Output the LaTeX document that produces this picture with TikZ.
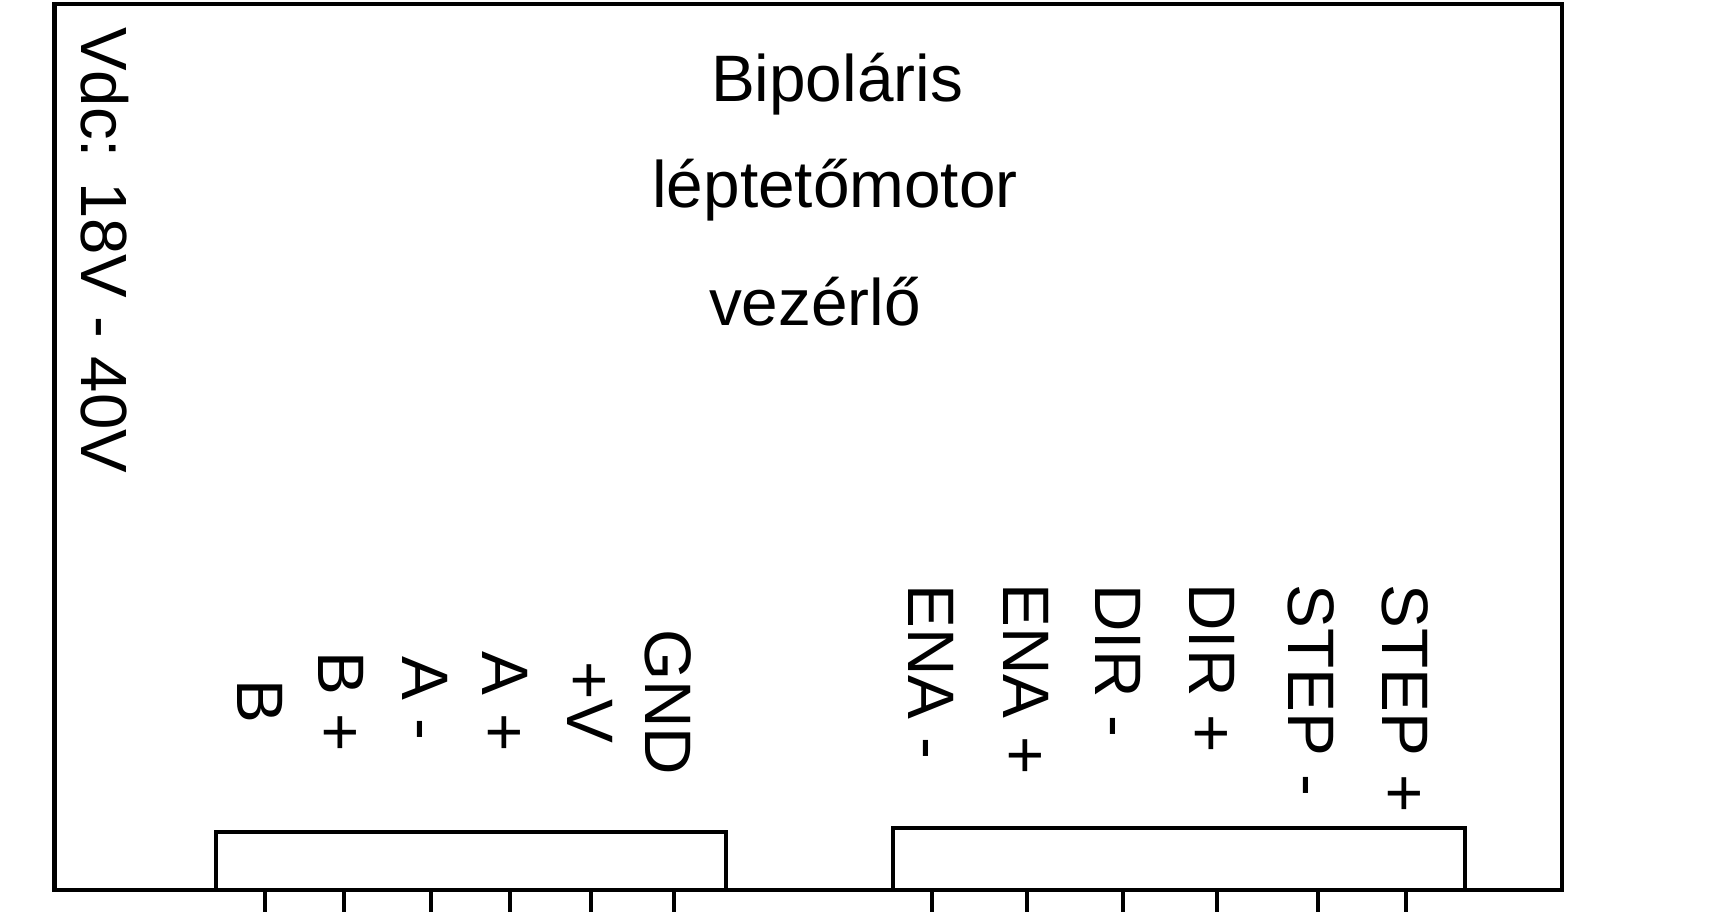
\documentclass[tikz,border=0pt]{standalone}
\usepackage{fontspec}
\setmainfont{Liberation Sans}
\usetikzlibrary{positioning}
\tikzset{
  ctrlbox/.style={ draw, line width=0.085cm, inner sep=0pt }
}
\tikzset{
  pinline/.style={ line width=0.08cm }
}
\tikzset{
  titletext/.style={ font=\fontsize{37.4}{40}\selectfont, inner sep=0pt }
}
\tikzset{
  rotlabel/.style={ font=\fontsize{37.4}{40}\selectfont, rotate=-90, anchor=base west, inner sep=0pt }
}

\begin{document}
\begin{tikzpicture}[x=0.02cm, y=-0.02cm]
      \useasboundingbox (0, 0) rectangle (1709, 912);

      \node[ctrlbox, minimum width=30.15cm, minimum height=17.71cm] (ctrl) at (808, 447) {};
      \node[ctrlbox, minimum width=10.19cm, minimum height=1.16cm] (connL) at (471, 861) {};
      \node[ctrlbox, minimum width=11.43cm, minimum height=1.24cm] (connR) at (1179, 859) {};

      \node[titletext] (title1) at (837, 84) {Bipoláris};
      \node[titletext] (title2) at (835, 190) {léptetőmotor};
      \node[titletext] (title3) at (815, 302) {vezérlő};

      \node[rotlabel, font=\fontsize{37.2}{40}\selectfont] (vdc) at (81, 27) {Vdc: 18V - 40V};

      % left connector
      \foreach \x/\y/\txt [count=\i] in {237/679/B, 318/651/B +, 402/656/A -, 482/651/A +, 567/661/+V, 645/629/GND} {
        \node[rotlabel] (lblL\i) at (\x, \y) {\txt};
      }
      \foreach \x [count=\i] in {265, 344, 430.5, 510, 591, 673.5} {
        \coordinate (pinL\i) at (\x, 912);
        \draw[pinline] (connL.south -| pinL\i) -- (pinL\i);
      }

      % right connector
      \foreach \x/\y/\txt [count=\i] in {908/584/ENA -, 1003/583/ENA +, 1095/584/DIR -, 1189/583/DIR +, 1288/584/STEP -, 1382/584/STEP +} {
        \node[rotlabel] (lblR\i) at (\x, \y) {\txt};
      }
      \foreach \x [count=\i] in {932, 1027, 1122.6, 1217, 1318, 1406} {
        \coordinate (pinR\i) at (\x, 912);
        \draw[pinline] (connR.south -| pinR\i) -- (pinR\i);
      }
    \end{tikzpicture}
\end{document}
